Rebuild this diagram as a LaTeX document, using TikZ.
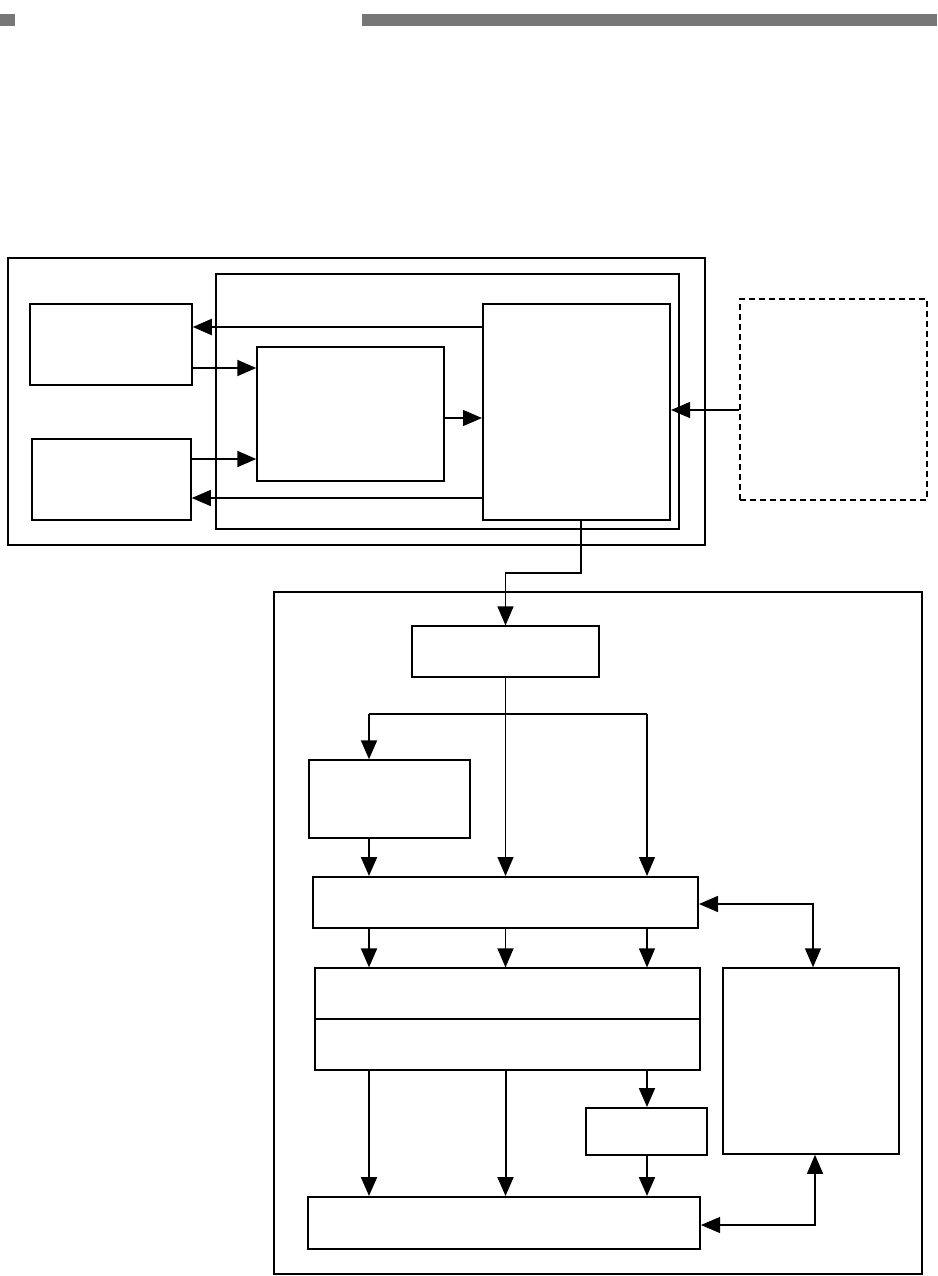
\documentclass[tikz,border=0pt]{standalone}
\usetikzlibrary{arrows.meta,fit}
\definecolor{HeadGray}{HTML}{777777}

\tikzset{
  >={Triangle[length=19pt,width=16pt]},
  blk/.style={draw, inner sep=0pt, line width=#1},
  blk/.default=1.5pt,
  arr/.style={->, line width=#1},
  arr/.default=1.2pt,
  dblarr/.style={<->, line width=#1},
  dblarr/.default=1.2pt
}

\begin{document}
\begin{tikzpicture}[x=1pt,y=-1pt]
  \useasboundingbox (0,0) rectangle (937,1276);
  % header bars
  \fill[HeadGray] (0,14) rectangle (15,26);
  \fill[HeadGray] (362,14) rectangle (937,26);

  % upper unit
  \node[blk=2pt, fit={(8,258) (705,545)}] (upper) {};
  \node[blk=1.2pt, fit={(216,274) (679,529)}] (inner) {};
  \node[blk=2pt, fit={(483,304) (670,520)}] (ctl) {};
  \node[blk, fit={(30,304) (192,385)}] (boxA) {};
  \node[blk, fit={(32,439) (191,520)}] (boxB) {};
  \node[blk, fit={(257,347) (444,481)}] (boxC) {};
  \node[blk=2pt, dash pattern=on 6pt off 4pt, fit={(740,299) (927,500)}] (ext) {};

  \draw[arr=2pt] (ctl.west |- 0,327) -- (boxA.east |- 0,327);
  \draw[arr=2pt] (boxA.east |- 0,368) -- (boxC.west |- 0,368);
  \draw[arr=2pt] (boxB.east |- 0,459) -- (boxC.west |- 0,459);
  \draw[arr] (boxC.east |- 0,418) -- (ctl.west |- 0,418);
  \draw[arr] (ctl.west |- 0,498) -- (boxB.east |- 0,498);
  \draw[arr] (ext.west |- 0,410) -- (ctl.east |- 0,410);

  % lower unit
  \node[blk=2pt, fit={(274,592) (922,1274)}] (lower) {};
  \node[blk=1.2pt, fit={(412,626) (599,677)}] (boxD) {};
  \node[blk, fit={(309,760) (470,838)}] (boxF) {};
  \node[blk=2pt, fit={(313,877) (698,928)}] (boxE) {};
  \node[blk=1.2pt, fit={(315,968) (700,1070)}] (boxG) {};
  \draw[line width=1.2pt] (boxG.west) -- (boxG.east);
  \node[blk, fit={(723,968) (899,1154)}] (boxH) {};
  \node[blk=2pt, fit={(586,1108) (707,1155)}] (boxJ) {};
  \node[blk=2pt, fit={(308,1197) (700,1249)}] (boxI) {};

  \coordinate (tap) at (581,573);
  \draw[arr] (ctl.south -| tap) -- (tap) -| (boxD.north);

  \coordinate (xL) at (369,714);
  \coordinate (xR) at (647,714);
  \draw[arr] (boxD.south) -- (boxD.south |- boxE.north);
  \draw[line width=1.2pt] (xL) -- (xR);
  \draw[arr=2pt] (xL) -- (xL |- boxF.north);
  \draw[arr] (xR) -- (xR |- boxE.north);
  \draw[arr=2pt] (xL |- boxF.south) -- (xL |- boxE.north);

  \draw[arr=2pt] (xL |- boxE.south) -- (xL |- boxG.north);
  \draw[arr] (boxD.south |- boxE.south) -- (boxD.south |- boxG.north);
  \draw[arr] (xR |- boxE.south) -- (xR |- boxG.north);

  \draw[arr=2pt] (xL |- boxG.south) -- (xL |- boxI.north);
  \draw[arr=2pt] (boxD.south |- boxG.south) -- (boxD.south |- boxI.north);
  \draw[arr=2pt] (xR |- boxG.south) -- (xR |- boxJ.north);
  \draw[arr=2pt] (boxJ.south -| xR) -- (xR |- boxI.north);

  \coordinate (cE) at (813,904);
  \coordinate (cI) at (815,1225);
  \draw[dblarr=1.5pt] (boxE.east |- cE) -| (boxH.north -| cE);
  \draw[dblarr] (boxI.east |- cI) -| (boxH.south -| cI);
\end{tikzpicture}
\end{document}
